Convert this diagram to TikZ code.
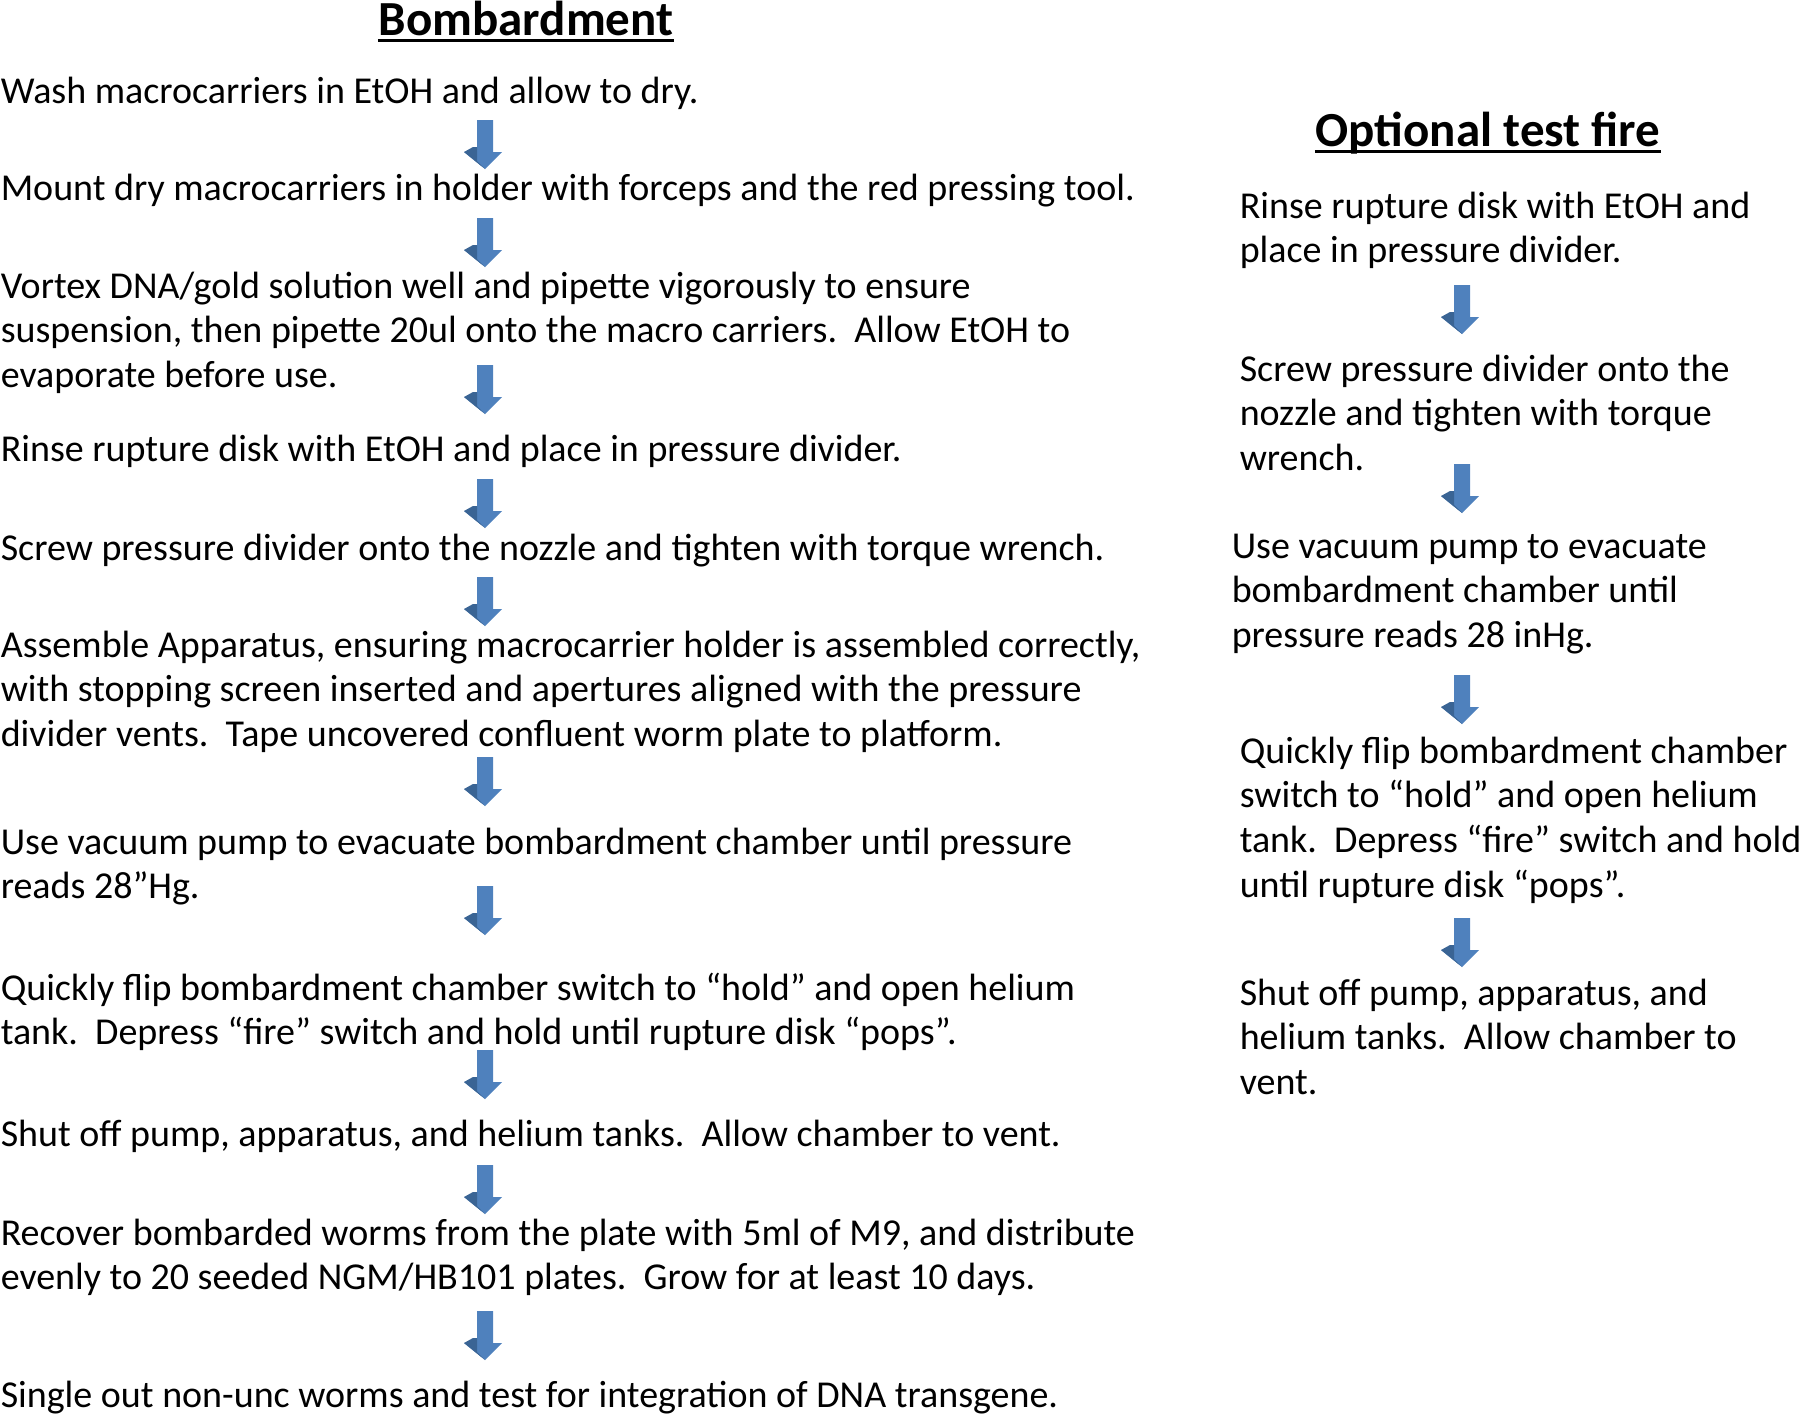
\documentclass[tikz,border=0pt]{standalone}
\usepackage{fontspec}
\setmainfont{Carlito}
\definecolor{arrowblue}{HTML}{4F81BD}
\definecolor{arrowdark}{HTML}{3A6494}
\tikzset{every picture/.style={line width=0.75pt},
  steptext/.style={anchor=north west, inner sep=0pt, align=left, font=\fontsize{19}{22.4}\selectfont},
  headtext/.style={anchor=base, inner sep=0pt, font=\fontsize{24.5}{30}\selectfont\bfseries},
  blockdown/.pic={
    \fill[arrowblue] (-8,0) -- (8,0) -- (8,-32) -- (17,-32) -- (0,-49) -- (-21,-32) -- (-8,-32) -- cycle;
    \fill[arrowdark] (-21,-32) -- (-12,-27) -- (-8,-27) -- (-8,-41) -- (0,-49) -- cycle;
  }
}
\begin{document}
\begin{tikzpicture}[x=0.5pt,y=0.5pt,yscale=-1,xscale=1]
\useasboundingbox (0,0) rectangle (1800,1415);

%Title Nodes
\draw (526,35) node [headtext] (bomb) {Bombardment};
\draw (1488,146) node [headtext] (optfire) {Optional test fire};
\draw [line width=1.5pt] ([yshift=2.5pt]bomb.base west) -- ([yshift=2.5pt]bomb.base east);
\draw [line width=1.5pt] ([yshift=2.5pt]optfire.base west) -- ([yshift=2.5pt]optfire.base east);

% Text Node
\draw (0,76) node [steptext] (wash) {Wash macrocarriers in EtOH and allow to dry.};
% Text Node
\draw (0,173) node [steptext] (mount) {Mount dry macrocarriers in holder with forceps and the red pressing tool.};
% Text Node
\draw (0,271) node [steptext] (vortex) {Vortex DNA/gold solution well and pipette vigorously to ensure\\suspension, then pipette 20ul onto the macro carriers.\ \ Allow EtOH to\\evaporate before use.};
% Text Node
\draw (0,434) node [steptext] (rinse) {Rinse rupture disk with EtOH and place in pressure divider.};
% Text Node
\draw (0,533) node [steptext] (screw) {Screw pressure divider onto the nozzle and tighten with torque wrench.};
% Text Node
\draw (0,630) node [steptext] (assemble) {Assemble Apparatus, ensuring macrocarrier holder is assembled correctly,\\with stopping screen inserted and apertures aligned with the pressure\\divider vents.\ \ Tape uncovered confluent worm plate to platform.};
% Text Node
\draw (0,827) node [steptext] (vacuum) {Use vacuum pump to evacuate bombardment chamber until pressure\\reads 28”Hg.};
% Text Node
\draw (0,972) node [steptext] (flip) {Quickly flip bombardment chamber switch to “hold” and open helium\\tank.\ \ Depress “fire” switch and hold until rupture disk “pops”.};
% Text Node
\draw (0,1119) node [steptext] (shutoff) {Shut off pump, apparatus, and helium tanks.\ \ Allow chamber to vent.};
% Text Node
\draw (0,1218) node [steptext] (recover) {Recover bombarded worms from the plate with 5ml of M9, and distribute\\evenly to 20 seeded NGM/HB101 plates.\ \ Grow for at least 10 days.};
% Text Node
\draw (0,1380) node [steptext] (single) {Single out non-unc worms and test for integration of DNA transgene.};

% Text Node
\draw (1239,191) node [steptext] (trinse) {Rinse rupture disk with EtOH and\\place in pressure divider.};
% Text Node
\draw (1239,354) node [steptext] (tscrew) {Screw pressure divider onto the\\nozzle and tighten with torque\\wrench.};
% Text Node
\draw (1231,533) node [steptext] (tvacuum) {Use vacuum pump to evacuate\\bombardment chamber until\\pressure reads 28 inHg.};
% Text Node
\draw (1239,736) node [steptext] (tflip) {Quickly flip bombardment chamber\\switch to “hold” and open helium\\tank.\ \ Depress “fire” switch and hold\\until rupture disk “pops”.};
% Text Node
\draw (1239,978) node [steptext] (tshutoff) {Shut off pump, apparatus, and\\helium tanks.\ \ Allow chamber to\\vent.};

%Block Arrows
\foreach \ytop in {120,218,365,479,577,757,886,1050,1165,1311}
  \pic at (485,\ytop) {blockdown};
\foreach \ytop in {285,464,675,918}
  \pic at (1462,\ytop) {blockdown};
\end{tikzpicture}
\end{document}
